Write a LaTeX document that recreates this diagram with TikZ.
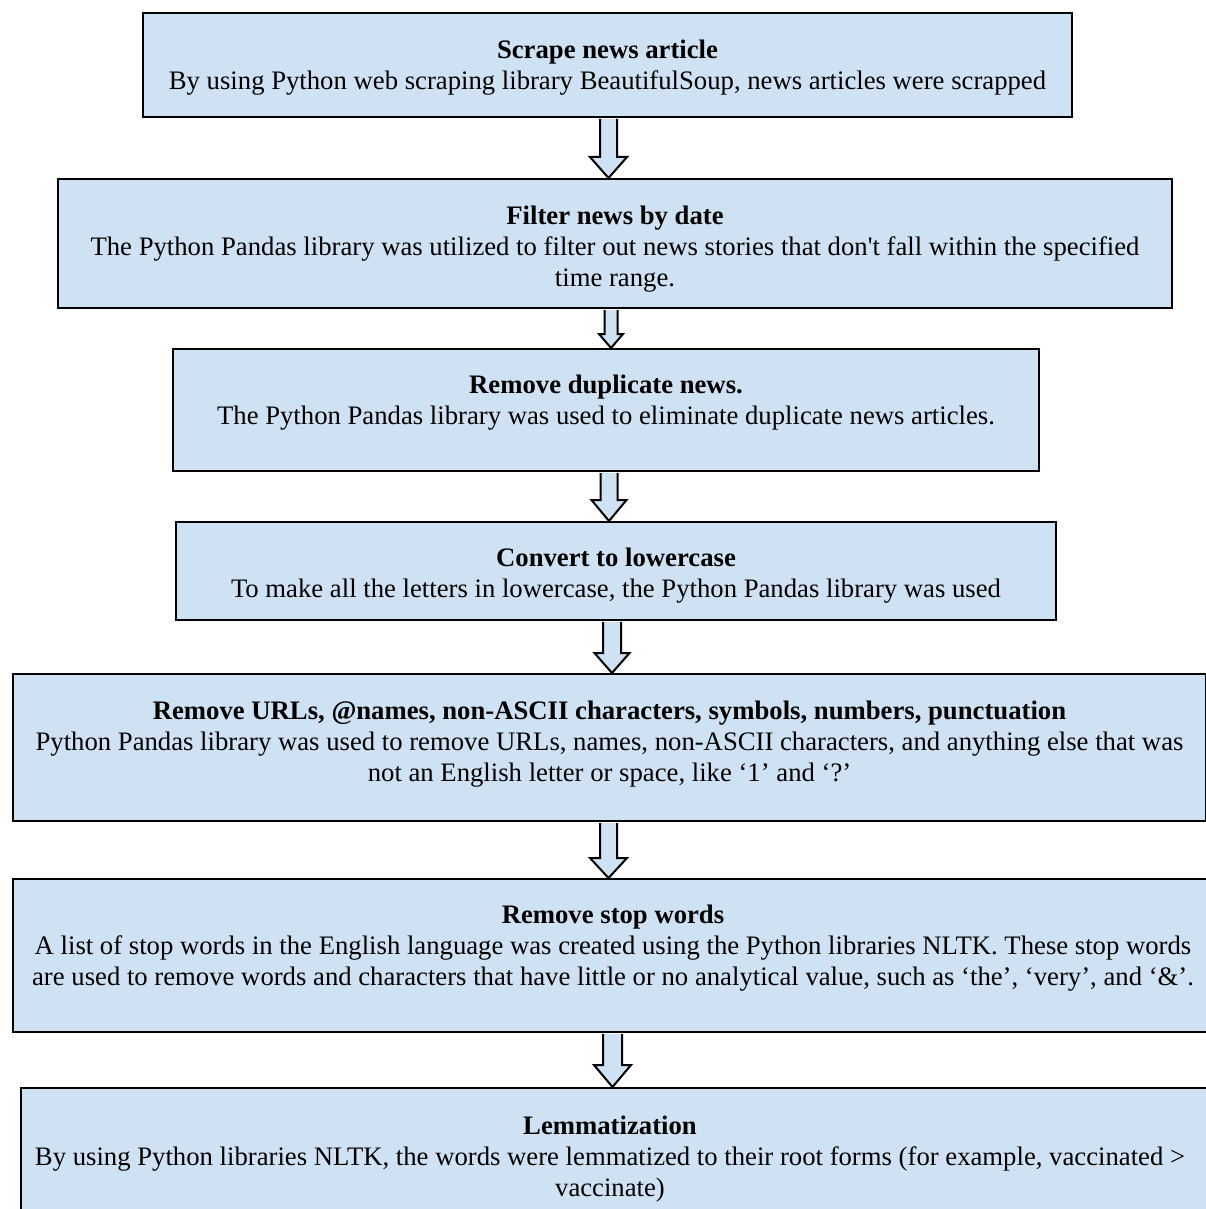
\documentclass[tikz,border=0pt]{standalone}
\usepackage{fontspec}
\setmainfont{Liberation Serif}
\usetikzlibrary{calc}
\definecolor{stepblue}{RGB}{207,226,243}
% block arrow: axis, from node, to node, shaft half width, head half width, head length
\newcommand{\blockarrow}[6]{%
  \draw[arrowline] ($(#1 |- #2.south)+(-#4,1)$) -- ($(#1 |- #3.north)+(-#4,-#6)$)
    -- ($(#1 |- #3.north)+(-#5,-#6)$) -- (#1 |- #3.north)
    -- ($(#1 |- #3.north)+(#5,-#6)$) -- ($(#1 |- #3.north)+(#4,-#6)$)
    -- ($(#1 |- #2.south)+(#4,1)$);
}

\begin{document}
\begin{tikzpicture}[x=1pt,y=-1pt,
  stagebox/.style={draw,line width=2pt,fill=stepblue,inner sep=0pt,anchor=north west},
  stagetext/.style={font=\fontsize{26.7}{31}\selectfont,align=center,inner sep=0pt,anchor=north},
  arrowline/.style={draw,line width=2pt,fill=stepblue,line join=miter}]
  \useasboundingbox (0,0) rectangle (1206,1209);

  \node[stagebox,minimum width=929,minimum height=104] (scrape) at (142,12) {};
  \node[stagetext] (scrape-t) at ([yshift=-28]scrape.north)
    {\textbf{Scrape news article}\\By using Python web scraping library BeautifulSoup, news articles were scrapped};

  \node[stagebox,minimum width=1114,minimum height=129] (filter) at (57,178) {};
  \node[stagetext] (filter-t) at ([yshift=-28]filter.north)
    {\textbf{Filter news by date}\\The Python Pandas library was utilized to filter out news stories that don\textquotesingle t fall within the specified\\time range.};

  \node[stagebox,minimum width=866,minimum height=122] (dedup) at (172,348) {};
  \node[stagetext] (dedup-t) at ([yshift=-27]dedup.north)
    {\textbf{Remove duplicate news.}\\The Python Pandas library was used to eliminate duplicate news articles.};

  \node[stagebox,minimum width=880,minimum height=98] (lower) at (175,521) {};
  \node[stagetext] (lower-t) at ([yshift=-27]lower.north)
    {\textbf{Convert to lowercase}\\To make all the letters in lowercase, the Python Pandas library was used};

  \node[stagebox,minimum width=1193,minimum height=147] (clean) at (12,673) {};
  \node[stagetext] (clean-t) at ([yshift=-28]clean.north)
    {\textbf{Remove URLs, @names, non-ASCII characters, symbols, numbers, punctuation}\\Python Pandas library was used to remove URLs, names, non-ASCII characters, and anything else that was\\not an English letter or space, like ‘1’ and ‘?’};

  \node[stagebox,minimum width=1200,minimum height=153] (stop) at (12,878) {};
  \node[stagetext] (stop-t) at ([yshift=-27]stop.north)
    {\textbf{Remove stop words}\\A list of stop words in the English language was created using the Python libraries NLTK. These stop words\\are used to remove words and characters that have little or no analytical value, such as ‘the’, ‘very’, and ‘\&’.};

  \node[stagebox,minimum width=1192,minimum height=130] (lemma) at (20,1087) {};
  \node[stagetext] (lemma-t) at ([xshift=-7,yshift=-29]lemma.north)
    {\textbf{Lemmatization}\\By using Python libraries NLTK, the words were lemmatized to their root forms (for example, vaccinated >\\vaccinate)};

  % arrows between the steps
  \coordinate (ax1) at (608.5,0);
  \coordinate (ax2) at (611,0);
  \coordinate (ax3) at (609,0);
  \coordinate (ax4) at (612,0);
  \coordinate (ax5) at (608.5,0);
  \coordinate (ax6) at (612.5,0);
  \blockarrow{ax1}{scrape}{filter}{8.5}{18.5}{21}
  \blockarrow{ax2}{filter}{dedup}{6.5}{12}{14}
  \blockarrow{ax3}{dedup}{lower}{8.5}{17.5}{21}
  \blockarrow{ax4}{lower}{clean}{9}{17.5}{20}
  \blockarrow{ax5}{clean}{stop}{8.5}{18.5}{20}
  \blockarrow{ax6}{stop}{lemma}{9.5}{18.5}{22}
\end{tikzpicture}
\end{document}
